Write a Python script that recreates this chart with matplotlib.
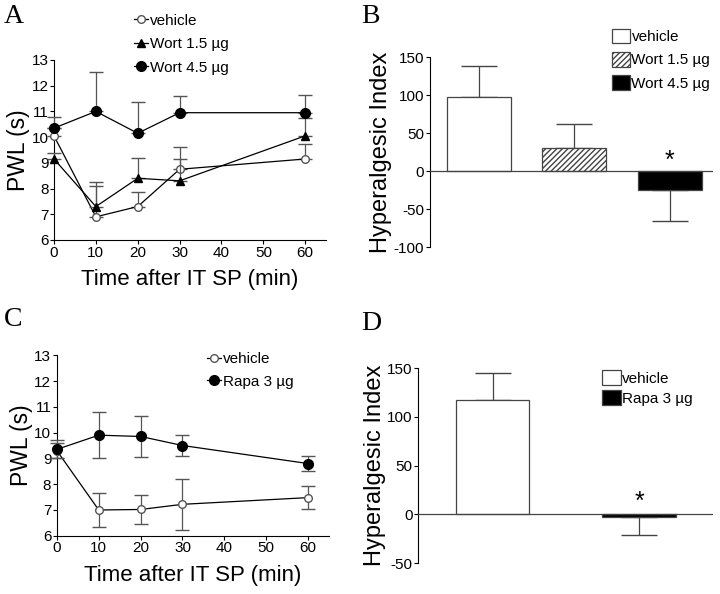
import numpy as np
import matplotlib
matplotlib.use("Agg")
import matplotlib.pyplot as plt
from matplotlib.lines import Line2D

plt.rcParams['font.family'] = ['Liberation Sans', 'DejaVu Sans']
plt.rcParams['axes.unicode_minus'] = False

# panel A / C time course
time_min = [0, 10, 20, 30, 60]
veh_a = [10.05, 6.9, 7.3, 8.75, 9.15]
veh_a_err = [0.3, 1.2, 0.55, 0.4, 0.6]
wort15_a = [9.15, 7.3, 8.4, 8.3, 10.05]
wort15_a_err = [0.25, 0.95, 0.8, 1.3, 0.7]
wort45_a = [10.35, 11.0, 10.15, 10.95, 10.95]
wort45_a_err = [0.42, 1.55, 1.2, 0.65, 0.7]

veh_c = [9.3, 7.0, 7.02, 7.22, 7.48]
veh_c_err = [0.3, 0.65, 0.58, 1.0, 0.45]
rapa_c = [9.35, 9.9, 9.85, 9.5, 8.8]
rapa_c_err = [0.35, 0.9, 0.8, 0.4, 0.28]

# panel B / D hyperalgesic index
b_labels = ['vehicle', 'Wort 1.5 \u00b5g', 'Wort 4.5 \u00b5g']
b_values = [98, 30, -25]
b_err = [40, 32, 41]
d_labels = ['vehicle', 'Rapa 3 \u00b5g']
d_values = [117, -3]
d_err = [28, 18]

fig = plt.figure(figsize=(7.2, 5.94), dpi=100)

EC = '#555555'


def time_axes(ax):
    ax.set_xlim(0, 65)
    ax.set_ylim(6, 13)
    ax.set_xticks([0, 10, 20, 30, 40, 50, 60])
    ax.set_yticks(range(6, 14))
    ax.spines['top'].set_visible(False)
    ax.spines['right'].set_visible(False)
    ax.tick_params(labelsize=11, length=3, pad=1)
    ax.set_xlabel('Time after IT SP (min)', fontsize=16, labelpad=7)
    ax.set_ylabel('PWL (s)', fontsize=16.5, labelpad=1)


def one_side(vals, errs):
    lo = [e if v < 0 else 0 for v, e in zip(vals, errs)]
    hi = [e if v >= 0 else 0 for v, e in zip(vals, errs)]
    return [lo, hi]


def up(errs):
    return [np.zeros(len(errs)), errs]


open_style = dict(marker='o', ms=5.5, mfc='white', mec=EC, color='black', lw=0.9)
tri_style = dict(marker='^', ms=5.5, color='black', lw=0.9)
dot_style = dict(marker='o', ms=7, color='black', lw=0.9)

# ---- A
axA = fig.add_axes([0.075, 0.596, 0.378, 0.303])
axA.errorbar(time_min, veh_a, yerr=up(veh_a_err), ecolor=EC, elinewidth=0.9, capsize=5,
             clip_on=False, zorder=3, **open_style)
axA.errorbar(time_min, wort15_a, yerr=up(wort15_a_err), ecolor=EC, elinewidth=0.9, capsize=5,
             clip_on=False, zorder=4, **tri_style)
axA.errorbar(time_min, wort45_a, yerr=up(wort45_a_err), ecolor=EC, elinewidth=0.9, capsize=5,
             clip_on=False, zorder=5, **dot_style)
time_axes(axA)
hA = [Line2D([], [], **open_style), Line2D([], [], **tri_style), Line2D([], [], **dot_style)]
axA.legend(hA, b_labels, loc='upper left', bbox_to_anchor=(0.178, 0.987), bbox_transform=fig.transFigure,
           frameon=False, fontsize=11, handlelength=0.9, handletextpad=0.15,
           labelspacing=0.62, borderaxespad=0)

# ---- B
axB = fig.add_axes([0.597, 0.584, 0.393, 0.320])
bx = np.arange(len(b_values))
axB.bar(bx, b_values, width=0.67, color=['white', 'white', 'black'],
        edgecolor='#444444', linewidth=0.9, hatch=[None, '//////', None], zorder=2)
axB.errorbar(bx, b_values, yerr=one_side(b_values, b_err), fmt='none', ecolor='#444444',
             elinewidth=0.9, capsize=13, zorder=1)
axB.axhline(0, color='#444444', lw=0.9, zorder=3)
axB.set_xlim(-0.51, 2.45)
axB.set_ylim(-100, 150)
axB.set_yticks([-100, -50, 0, 50, 100, 150])
axB.set_xticks([])
for s in ['top', 'right', 'bottom']:
    axB.spines[s].set_visible(False)
axB.tick_params(labelsize=11, length=3, pad=1)
axB.set_ylabel('Hyperalgesic Index', fontsize=17, labelpad=1)
axB.text(2, -3, '*', ha='center', va='bottom', fontsize=18)
axB.legend(axB.patches[:3], b_labels, loc='upper left', bbox_to_anchor=(0.841, 0.962),
           bbox_transform=fig.transFigure, frameon=False, fontsize=11, handlelength=1.2,
           handleheight=1.1, handletextpad=0.1, labelspacing=0.5, borderaxespad=0)

# ---- C
axC = fig.add_axes([0.079, 0.098, 0.378, 0.304])
axC.errorbar(time_min, veh_c, yerr=veh_c_err, ecolor=EC, elinewidth=0.9, capsize=5,
             clip_on=False, zorder=3, **open_style)
axC.errorbar(time_min, rapa_c, yerr=rapa_c_err, ecolor=EC, elinewidth=0.9, capsize=5,
             clip_on=False, zorder=4, **dot_style)
time_axes(axC)
hC = [Line2D([], [], **open_style), Line2D([], [], **dot_style)]
axC.legend(hC, d_labels, loc='upper left', bbox_to_anchor=(0.279, 0.417), bbox_transform=fig.transFigure,
           frameon=False, fontsize=11, handlelength=0.9, handletextpad=0.15,
           labelspacing=0.55, borderaxespad=0)

# ---- D
axD = fig.add_axes([0.581, 0.052, 0.409, 0.328])
dx = np.arange(len(d_values))
axD.bar(dx, d_values, width=0.5, color=['white', 'black'], edgecolor='#444444',
        linewidth=0.9, zorder=2)
axD.errorbar(dx, d_values, yerr=one_side(d_values, d_err), fmt='none', ecolor='#444444',
             elinewidth=0.9, capsize=13, zorder=1)
axD.axhline(0, color='#444444', lw=0.9, zorder=3)
axD.set_xlim(-0.51, 1.505)
axD.set_ylim(-50, 150)
axD.set_yticks([-50, 0, 50, 100, 150])
axD.set_xticks([])
for s in ['top', 'right', 'bottom']:
    axD.spines[s].set_visible(False)
axD.tick_params(labelsize=11, length=3, pad=1)
axD.set_ylabel('Hyperalgesic Index', fontsize=17, labelpad=1)
axD.text(1, 1, '*', ha='center', va='bottom', fontsize=18)
axD.legend(axD.patches[:2], d_labels, loc='upper left', bbox_to_anchor=(0.828, 0.387),
           bbox_transform=fig.transFigure, frameon=False, fontsize=11, handlelength=1.2,
           handleheight=1.1, handletextpad=0.1, labelspacing=0.3, borderaxespad=0)

# panel letters
for x, y, s in [(0.005, 0.972, 'A'), (0.502, 0.972, 'B'), (0.005, 0.462, 'C'), (0.502, 0.456, 'D')]:
    fig.text(x, y, s, fontsize=20, family='Liberation Serif', va='center', ha='left')

fig.savefig('out.png', dpi=100)
